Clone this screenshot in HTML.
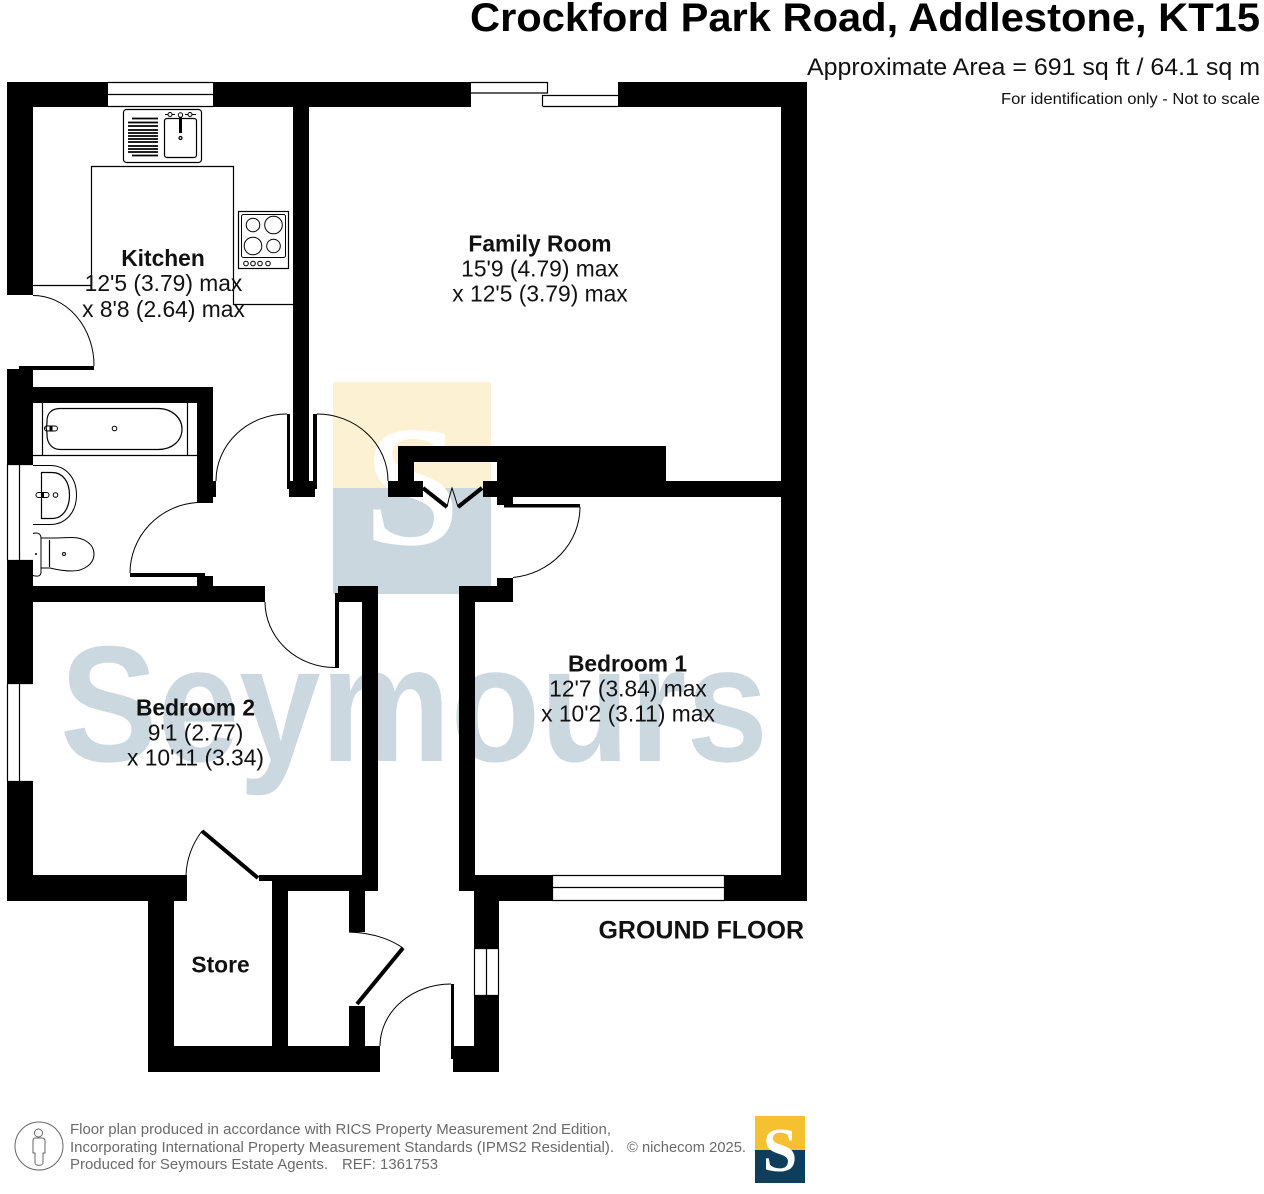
<!DOCTYPE html>
<html lang="en"><head><meta charset="utf-8"><title>Crockford Park Road floor plan</title>
<style>
html,body{margin:0;padding:0;background:#fff;width:1264px;height:1194px;overflow:hidden}
svg{display:block}
text{font-family:"Liberation Sans",sans-serif}
.b{font-weight:bold;font-size:22.800px;text-anchor:middle;fill:#111}
.d{font-size:22.800px;text-anchor:middle;fill:#111}
.f{font-size:14.600px;fill:#6a6a6a}
.thin{fill:none;stroke:#000;stroke-width:1}
.ln{fill:none;stroke:#000;stroke-width:1.500}
.med{fill:#fff;stroke:#000;stroke-width:1.200}
.door{fill:none;stroke:#000;stroke-width:4}
</style></head><body>
<svg width="1264" height="1194" viewBox="0 0 1264 1194" xmlns="http://www.w3.org/2000/svg">
<rect width="1264" height="1194" fill="#fff"/>

<!-- watermark -->
<rect x="333" y="382" width="158" height="106" fill="#fdf1d4"/>
<rect x="333" y="488" width="158" height="106" fill="#cbd7df"/>
<text x="412" y="544" font-size="172" font-weight="bold" text-anchor="middle" fill="#fff" style='font-family:"Liberation Serif",serif'>S</text>
<text x="60" y="761" font-size="165" font-weight="bold" fill="#ccd8e0" textLength="708" lengthAdjust="spacingAndGlyphs">Seymours</text>

<!-- walls -->
<g fill="#000">
<rect x="7" y="82" width="101" height="25"/>
<rect x="213" y="82" width="258" height="25"/>
<rect x="618" y="82" width="189" height="25"/>
<rect x="7" y="82" width="26" height="213"/>
<rect x="293" y="107" width="16" height="375"/>
<rect x="781" y="82" width="26" height="819"/>
<rect x="7" y="369" width="26" height="95"/>
<rect x="7" y="561" width="26" height="122"/>
<rect x="7" y="782" width="26" height="119"/>
<rect x="19" y="366" width="75" height="4"/>
<rect x="33" y="387" width="180" height="16"/>
<rect x="197" y="387" width="16" height="116"/>
<rect x="213" y="481" width="3" height="16"/>
<rect x="130" y="573" width="75" height="4"/>
<rect x="197" y="576" width="16" height="12"/>
<rect x="7" y="586" width="258" height="16"/>
<rect x="287" y="414" width="3" height="75"/>
<rect x="313" y="414" width="4" height="75"/>
<rect x="287" y="481" width="30" height="8"/>
<rect x="289" y="481" width="26" height="16"/>
<rect x="335" y="593" width="4" height="75"/>
<rect x="338" y="586" width="40" height="16"/>
<rect x="362" y="586" width="16" height="304"/>
<rect x="459" y="586" width="16" height="305"/>
<rect x="459" y="586" width="54" height="16"/>
<rect x="497" y="578" width="16" height="24"/>
<rect x="398" y="446" width="268" height="16"/>
<rect x="398" y="446" width="16" height="51"/>
<rect x="388" y="481" width="35" height="16"/>
<rect x="483" y="481" width="298" height="16"/>
<rect x="497" y="446" width="169" height="51"/>
<rect x="497" y="481" width="16" height="24"/>
<rect x="504" y="504" width="76" height="3.500"/>
<rect x="475" y="875" width="77" height="26"/>
<rect x="725" y="875" width="82" height="26"/>
<rect x="7" y="875" width="180" height="26"/>
<rect x="148" y="875" width="26" height="197"/>
<rect x="148" y="1046" width="232" height="26"/>
<rect x="272" y="875" width="16" height="175"/>
<rect x="259" y="875" width="119" height="6"/>
<rect x="272" y="875" width="106" height="16"/>
<rect x="349" y="881" width="16" height="51"/>
<rect x="349" y="1006" width="16" height="42"/>
<rect x="474" y="875" width="25" height="73"/>
<rect x="474" y="996" width="25" height="76"/>
<rect x="453" y="1046" width="46" height="26"/>
<rect x="451" y="984" width="3" height="75"/>
</g>

<!-- door leaves and swings -->
<path class="door" d="M423 488L447 507M482 488L458 507M202 831L258 878M403 948L357 1004"/>
<g class="thin">
<path d="M33 295.500A61 70 0 0 1 94 366"/>
<path d="M216 481A71 67 0 0 1 287 414"/>
<path d="M317 414A71 67 0 0 1 388 481"/>
<path d="M130 573A72 71 0 0 1 197 502.500"/>
<path d="M265 602A70 66 0 0 0 335 667.500"/>
<path d="M580 507A75 71 0 0 1 513 577.500"/>
<path d="M447 507Q449 497 452 488Q455 497 458 507"/>
<path d="M186 875Q187 851 202 831"/>
<path d="M349 932Q381 933 403 948"/>
<path d="M380 1046A71 62 0 0 1 451 984"/>
</g>

<!-- windows -->
<g class="ln" style="stroke-width:1.200">
<path d="M108 82.500H213M108 94.500H213M108 106.500H213"/>
<path d="M471 82.500H547.500V93H471"/>
<path d="M542.500 106V95.500H618M542.500 106.500H618"/>
<path d="M552 875.500H725M552 887.500H725M552 900.500H725"/>
<path d="M552.500 875V901M724.500 875V901"/>
<path d="M474.500 948V996M486.500 948V996M498.500 948V996M474 948.500H499M474 995.500H499"/>
<path d="M7.500 464V561M19.500 464V561M7 464.500H33M7 560.500H33"/>
<path d="M7.500 683V782M19.500 683V782M7 683.500H33M7 781.500H33"/>
</g>

<!-- kitchen units -->
<path class="ln" style="stroke-width:1.200" d="M33 285.500H91.500V166.500H233.500V304.500H293"/>
<rect x="123.500" y="109.500" width="78" height="53" rx="3" class="med"/>
<g stroke="#000" stroke-width="1.800" fill="none">
<path d="M132 118.500H158M128 122.500H158M128 126H158M128 130H158M128 133H158M128 136H158M128 139H158M128 142H158M128 146H158M128 149H158M128 152H158M132 155.500H158"/>
</g>
<rect x="164.500" y="118.500" width="32" height="39" rx="2.500" class="med"/>
<path d="M180.500 115V133" stroke="#000" stroke-width="3"/>
<circle cx="180.500" cy="115" r="2.200" fill="#fff" stroke="#000"/>
<circle cx="180.500" cy="138" r="1.500" fill="#fff" stroke="#000" stroke-width="1.200"/>
<path d="M165 114.500H175M185 114.500H196" stroke="#000" stroke-width="1"/>
<circle cx="170" cy="114.500" r="2" fill="#fff" stroke="#000"/>
<circle cx="190" cy="114.500" r="2" fill="#fff" stroke="#000"/>
<rect x="238.500" y="211.500" width="50" height="57" class="med"/>
<rect x="241.500" y="214.500" width="44" height="43" rx="2" class="thin"/>
<circle cx="253" cy="225" r="6.800" class="thin"/>
<circle cx="273.500" cy="225" r="8.800" class="thin"/>
<circle cx="253" cy="246" r="8.800" class="thin"/>
<circle cx="273.500" cy="246" r="6.800" class="thin"/>
<circle cx="246" cy="263.500" r="2.300" class="thin"/>
<circle cx="253" cy="263.500" r="2.300" class="thin"/>
<circle cx="260" cy="263.500" r="2.300" class="thin"/>
<circle cx="268" cy="263.500" r="2.300" class="thin"/>

<!-- bathroom -->
<path class="ln" style="stroke-width:1.200" d="M42.500 403V455M187.500 403V455M33 455.500H197"/>
<path class="thin" style="stroke-width:1.200" d="M60 408.500H158C172 408.500 182 418 182 429C182 441 172 449.500 158 449.500H60C52 449.500 47 443 47 435C47 430 46 428 46 428C46 428 47 426 47 421C47 413 52 408.500 60 408.500Z"/>
<circle cx="114.500" cy="428.500" r="2.300" class="thin"/>
<rect x="44.500" y="426" width="13" height="5" rx="2.500" class="thin"/>
<rect x="49.500" y="426" width="3" height="5" fill="#000"/>
<path d="M33 465.500H50C66 465.500 76.500 478 76.500 495C76.500 512 66 524.500 50 524.500H33" class="thin"/>
<path d="M41.500 472.500H52C63 472.500 69.500 482 69.500 495C69.500 508 63 518.500 52 518.500H41.500Z" class="thin" style="stroke-width:1.200"/>
<rect x="36" y="492.500" width="13" height="5" rx="2.500" class="thin"/>
<rect x="41" y="492.500" width="3" height="5" fill="#000"/>
<circle cx="55.500" cy="495" r="2.300" class="thin"/>
<path d="M33 533.500C38 532 41 534 41 538V572C41 576 38 577 33 575.500" class="thin"/>
<path d="M41 538H50C60 538 66 537.500 72 537.500C84 537.500 94 544 94 554C94 564 84 571 72 571C64 571 58 570 50 568H41" class="thin"/>
<path d="M49.500 540V567" class="thin" style="stroke-width:1.200"/>
<circle cx="64" cy="554" r="1.500" class="thin"/>
<circle cx="36" cy="554" r="1" fill="#000"/>

<!-- labels -->
<text class="b" x="163" y="266">Kitchen</text>
<text class="d" x="163.500" y="291">12'5 (3.79) max</text>
<text class="d" x="163.500" y="317">x 8'8 (2.64) max</text>
<text class="b" x="540" y="251.500">Family Room</text>
<text class="d" x="540" y="276.500">15'9 (4.79) max</text>
<text class="d" x="540" y="301.500">x 12'5 (3.79) max</text>
<text class="b" x="627.500" y="671.500">Bedroom 1</text>
<text class="d" x="628" y="696.500">12'7 (3.84) max</text>
<text class="d" x="628" y="721.500">x 10'2 (3.11) max</text>
<text class="b" x="195.500" y="715.500">Bedroom 2</text>
<text class="d" x="195.500" y="740.500">9'1 (2.77)</text>
<text class="d" x="195.500" y="765.500">x 10'11 (3.34)</text>
<text class="b" x="220.500" y="972.500">Store</text>
<text x="804" y="938.500" font-size="25" font-weight="bold" text-anchor="end" fill="#111">GROUND FLOOR</text>

<!-- header -->
<text x="470" y="31" font-size="40" font-weight="bold" fill="#000" textLength="790" lengthAdjust="spacingAndGlyphs">Crockford Park Road, Addlestone, KT15</text>
<text x="807" y="75" font-size="24.500" fill="#111" textLength="453" lengthAdjust="spacingAndGlyphs">Approximate Area = 691 sq ft / 64.1 sq m</text>
<text x="1001" y="104" font-size="16" fill="#111" textLength="259" lengthAdjust="spacingAndGlyphs">For identification only - Not to scale</text>

<!-- footer -->
<g class="thin" style="stroke:#666">
<circle cx="39" cy="1146" r="24"/>
<circle cx="38.500" cy="1133" r="4"/>
<path d="M35 1138H42C44 1138 45 1139 45 1141V1153H43V1163C43 1166 35 1166 35 1163V1153H33V1141C33 1139 34 1138 35 1138Z"/>
</g>
<text class="f" x="70" y="1134" textLength="541" lengthAdjust="spacingAndGlyphs">Floor plan produced in accordance with RICS Property Measurement 2nd Edition,</text>
<text class="f" x="70" y="1152" textLength="544" lengthAdjust="spacingAndGlyphs">Incorporating International Property Measurement Standards (IPMS2 Residential).</text>
<text class="f" x="70" y="1169" textLength="258" lengthAdjust="spacingAndGlyphs">Produced for Seymours Estate Agents.</text>
<text class="f" x="342" y="1169" textLength="96" lengthAdjust="spacingAndGlyphs">REF: 1361753</text>
<text class="f" x="627" y="1152" textLength="119" lengthAdjust="spacingAndGlyphs">© nichecom 2025.</text>
<rect x="755" y="1116" width="50" height="34" fill="#f5c130"/>
<rect x="755" y="1150" width="50" height="33" fill="#0f3d5c"/>
<text x="780" y="1171" font-size="62" font-weight="bold" text-anchor="middle" fill="#fff" style='font-family:"Liberation Serif",serif'>S</text>
</svg>
</body></html>
